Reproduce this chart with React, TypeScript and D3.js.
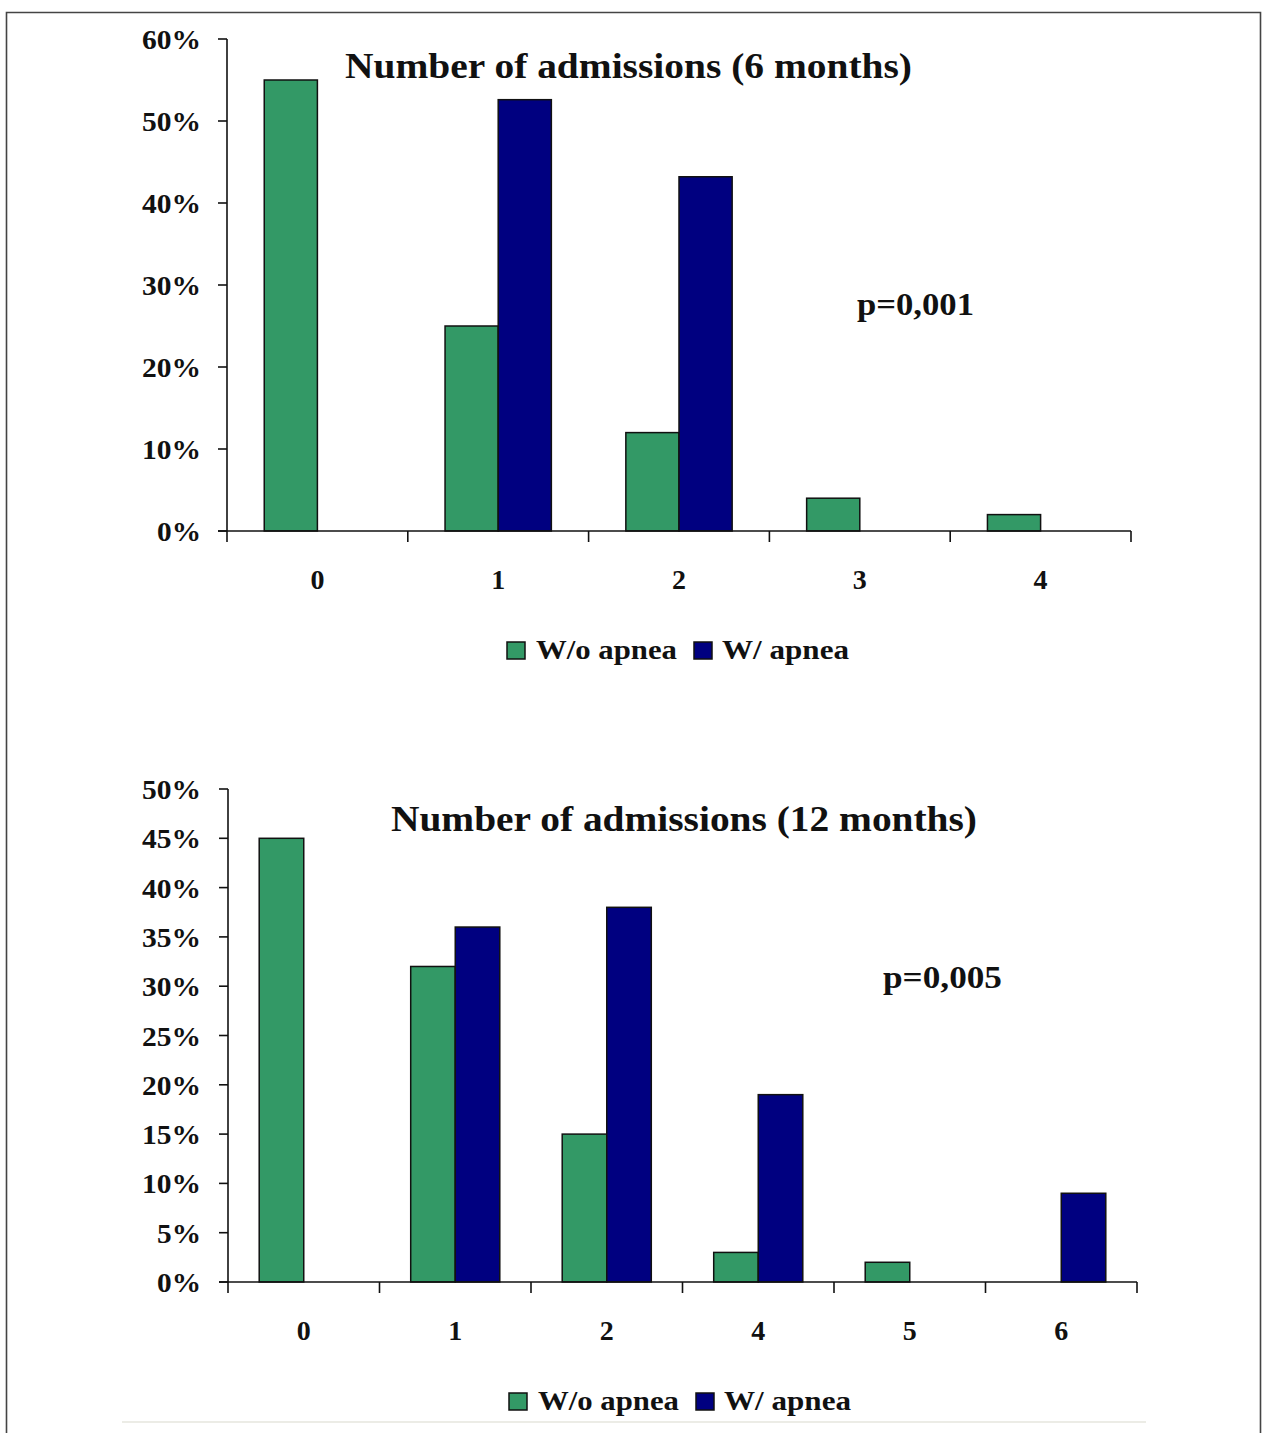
import React from "react";
import * as d3 from "d3";

// ---- Data ----
const categories6 = ["0", "1", "2", "3", "4"];
const withoutApnea6 = [55, 25, 12, 4, 2];
const withApnea6 = [0, 52.6, 43.2, 0, 0];
const yTicks6 = [0, 10, 20, 30, 40, 50, 60];
const title6 = "Number of admissions (6 months)";
const pValue6 = "p=0,001";

const categories12 = ["0", "1", "2", "4", "5", "6"];
const withoutApnea12 = [45, 32, 15, 3, 2, 0];
const withApnea12 = [0, 36, 38, 19, 0, 9];
const yTicks12 = [0, 5, 10, 15, 20, 25, 30, 35, 40, 45, 50];
const title12 = "Number of admissions (12 months)";
const pValue12 = "p=0,005";

const seriesNames = ["W/o apnea", "W/ apnea"];
const seriesColors = ["#339966", "#000080"];

const FONT = "'Liberation Serif', 'Times New Roman', serif";

type ChartProps = {
  cats: string[];
  s1: number[];
  s2: number[];
  ticks: number[];
  title: string;
  pval: string;
  x0: number;
  x1: number;
  yTop: number;
  yBottom: number;
  titleX: number;
  titleY: number;
  titleLen: number;
  pX: number;
  pY: number;
  pLen: number;
  legendX: number;
};

function Chart(p: ChartProps) {
  const yMax = p.ticks[p.ticks.length - 1];
  const y = d3.scaleLinear().domain([0, yMax]).range([p.yBottom, p.yTop]);
  const padIn = 0.412;
  const x = d3
    .scaleBand<string>()
    .domain(p.cats)
    .range([p.x0, p.x1])
    .paddingInner(padIn)
    .paddingOuter(padIn / 2);
  const bw = x.bandwidth() / 2;
  const step = x.step();
  const bounds = p.cats.map((c) => (x(c) as number) - (step * padIn) / 2);
  bounds.push(p.x1);
  const series = [p.s1, p.s2];
  const ly = p.yBottom + 111;
  return (
    <g>
      {/* bars */}
      {series.map((vals, si) =>
        p.cats.map((c, i) =>
          vals[i] > 0 ? (
            <rect
              key={`b${si}-${i}`}
              x={(x(c) as number) + si * bw}
              y={y(vals[i])}
              width={bw}
              height={p.yBottom - y(vals[i])}
              fill={seriesColors[si]}
              stroke="#111"
              strokeWidth={1.5}
            />
          ) : null
        )
      )}
      {/* y axis */}
      <line x1={p.x0} x2={p.x0} y1={p.yTop} y2={p.yBottom} stroke="#111" strokeWidth={1.6} />
      {p.ticks.map((t) => {
        const label = t + "%";
        return (
          <g key={`yt${t}`}>
            <line x1={p.x0 - 9} x2={p.x0} y1={y(t)} y2={y(t)} stroke="#111" strokeWidth={1.6} />
            <text
              x={201}
              y={y(t) + 10}
              textAnchor="end"
              fontFamily={FONT}
              fontWeight="bold"
              fontSize={28}
              textLength={label.length === 3 ? 59 : 44}
              lengthAdjust="spacingAndGlyphs"
              fill="#111"
            >
              {label}
            </text>
          </g>
        );
      })}
      {/* x axis */}
      <line x1={p.x0 - 9} x2={p.x1} y1={p.yBottom} y2={p.yBottom} stroke="#111" strokeWidth={1.6} />
      {bounds.map((b, i) => (
        <line key={`xt${i}`} x1={b} x2={b} y1={p.yBottom} y2={p.yBottom + 11} stroke="#111" strokeWidth={1.6} />
      ))}
      {p.cats.map((c) => (
        <text
          key={`xl${c}`}
          x={(x(c) as number) + x.bandwidth() / 2}
          y={p.yBottom + 58}
          textAnchor="middle"
          fontFamily={FONT}
          fontWeight="bold"
          fontSize={28}
          fill="#111"
        >
          {c}
        </text>
      ))}
      {/* title */}
      <text
        x={p.titleX}
        y={p.titleY}
        textAnchor="middle"
        fontFamily={FONT}
        fontWeight="bold"
        fontSize={35}
        textLength={p.titleLen}
        lengthAdjust="spacingAndGlyphs"
        fill="#111"
      >
        {p.title}
      </text>
      {/* p value */}
      <text
        x={p.pX}
        y={p.pY}
        fontFamily={FONT}
        fontWeight="bold"
        fontSize={31}
        textLength={p.pLen}
        lengthAdjust="spacingAndGlyphs"
        fill="#111"
      >
        {p.pval}
      </text>
      {/* legend */}
      <g>
        <rect x={p.legendX} y={ly} width={18} height={17} fill={seriesColors[0]} stroke="#111" strokeWidth={1.5} />
        <text
          x={p.legendX + 29}
          y={ly + 17}
          fontFamily={FONT}
          fontWeight="bold"
          fontSize={28}
          textLength={141}
          lengthAdjust="spacingAndGlyphs"
          fill="#111"
        >
          {seriesNames[0]}
        </text>
        <rect x={p.legendX + 187} y={ly} width={18} height={17} fill={seriesColors[1]} stroke="#111" strokeWidth={1.5} />
        <text
          x={p.legendX + 215}
          y={ly + 17}
          fontFamily={FONT}
          fontWeight="bold"
          fontSize={28}
          textLength={127}
          lengthAdjust="spacingAndGlyphs"
          fill="#111"
        >
          {seriesNames[1]}
        </text>
      </g>
    </g>
  );
}

export default function App() {
  return (
    <svg
      width={1267}
      height={1433}
      style={{ position: "absolute", left: 0, top: 0, background: "#fff" }}
    >
      <rect x={0} y={0} width={1267} height={1433} fill="#fff" />
      <path d="M6.5,1433 V12.5 H1260.5 V1433" fill="none" stroke="#444" strokeWidth={1.6} />
      <line x1={122} x2={1146} y1={1422} y2={1422} stroke="#e6e6de" strokeWidth={1.5} />
      <Chart
        cats={categories6}
        s1={withoutApnea6}
        s2={withApnea6}
        ticks={yTicks6}
        title={title6}
        pval={pValue6}
        x0={227}
        x1={1131}
        yTop={39}
        yBottom={531}
        titleX={628.5}
        titleY={78}
        titleLen={567}
        pX={857}
        pY={315}
        pLen={117}
        legendX={507}
      />
      <Chart
        cats={categories12}
        s1={withoutApnea12}
        s2={withApnea12}
        ticks={yTicks12}
        title={title12}
        pval={pValue12}
        x0={228}
        x1={1137}
        yTop={789}
        yBottom={1282}
        titleX={684}
        titleY={831}
        titleLen={586}
        pX={883}
        pY={988}
        pLen={119}
        legendX={509}
      />
    </svg>
  );
}
